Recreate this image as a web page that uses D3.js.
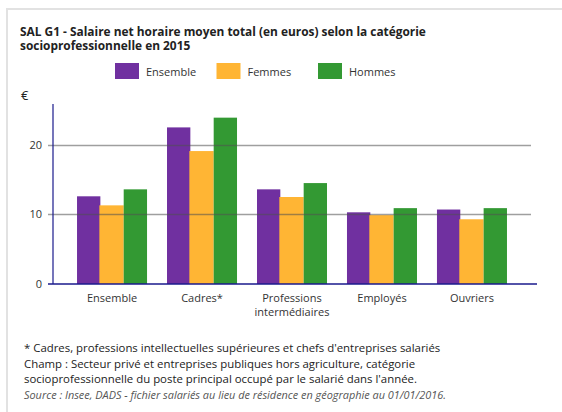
<!DOCTYPE html>
<html>
<head>
<meta charset="utf-8">
<script src="https://cdn.jsdelivr.net/npm/d3@7"></script>
<style>
  body { margin: 0; background: #fff; font-family: "Open Sans", sans-serif; }
  .tick text { font-family: "Open Sans", sans-serif; }
</style>
</head>
<body>
<script>
// Data
const categories = ["Ensemble", "Cadres*", "Professions intermédiaires", "Employés", "Ouvriers"];
const categoryLines = [["Ensemble"], ["Cadres*"], ["Professions", "intermédiaires"], ["Employés"], ["Ouvriers"]];
const seriesNames = ["Ensemble", "Femmes", "Hommes"];
const ensembleValues = [12.6, 22.5, 13.6, 10.3, 10.7];
const femmesValues = [11.3, 19.1, 12.5, 9.9, 9.3];
const hommesValues = [13.6, 23.9, 14.5, 10.9, 10.9];
const yTicks = [0, 10, 20];
const seriesColors = ["#7030a0", "#ffb534", "#339933"];

const titleLines = [
  "SAL G1 - Salaire net horaire moyen total (en euros) selon la catégorie",
  "socioprofessionnelle en 2015"
];
const noteLines = [
  "* Cadres, professions intellectuelles supérieures et chefs d'entreprises salariés",
  "Champ : Secteur privé et entreprises publiques hors agriculture, catégorie",
  "socioprofessionnelle du poste principal occupé par le salarié dans l'année."
];
const sourceLine = "Source : Insee, DADS - fichier salariés au lieu de résidence en géographie au 01/01/2016.";

const W = 562, H = 412;
const left = 53, right = 531, yZero = 284;

const svg = d3.select("body").append("svg")
    .attr("width", W)
    .attr("height", H);

// light frame round the chart
svg.append("path")
    .attr("d", `M7,${H} V9 H${W}`)
    .attr("fill", "none")
    .attr("stroke", "#e2e2e2")
    .attr("stroke-width", 2);

// title
svg.append("text")
    .attr("x", 20).attr("y", 35.5)
    .style("font-size", "11.9px")
    .style("font-weight", "bold")
    .attr("fill", "#222")
    .selectAll("tspan")
    .data(titleLines)
    .enter().append("tspan")
    .attr("x", 20)
    .attr("dy", (d, i) => i ? 14.5 : 0)
    .text(d => d);

// legend
const legend = svg.append("g").attr("transform", "translate(115,63)");
const lg = legend.selectAll("g")
    .data(seriesNames)
    .enter().append("g")
    .attr("transform", (d, i) => `translate(${i * 101.5},0)`);
lg.append("rect")
    .attr("width", 24).attr("height", 16)
    .attr("fill", (d, i) => seriesColors[i]);
lg.append("text")
    .attr("x", 31).attr("y", 12.5)
    .style("font-size", "11px")
    .attr("fill", "#333")
    .text(d => d);

// euro unit
svg.append("text")
    .attr("x", 21).attr("y", 100)
    .style("font-size", "13px")
    .attr("fill", "#222")
    .text("€");

// scales
const x0 = d3.scaleBand()
    .domain(categories)
    .range([left, right])
    .paddingInner(0.222)
    .paddingOuter(0.267);

const x1 = d3.scaleBand()
    .domain(seriesNames)
    .range([0, x0.bandwidth()]);

const y = d3.scaleLinear()
    .domain([0, 10])
    .range([yZero, yZero - 69.6]);

const rows = categories.map((c, i) => ({
  cat: c,
  vals: [ensembleValues[i], femmesValues[i], hommesValues[i]]
}));

// bars
const groups = svg.append("g").selectAll("g")
    .data(rows)
    .enter().append("g")
    .attr("transform", d => `translate(${x0(d.cat)},0)`);

groups.selectAll("rect")
    .data(d => d.vals.map((v, i) => ({ s: seriesNames[i], v: v, i: i })))
    .enter().append("rect")
    .attr("x", d => x1(d.s) - (d.i === 1 ? 1 : 0))
    .attr("width", d => x1.bandwidth() + (d.i === 1 ? 1 : 0))
    .attr("y", d => y(d.v))
    .attr("height", d => yZero - y(d.v))
    .attr("fill", d => seriesColors[d.i]);

// gridlines (and small ticks left of the axis) drawn over bars
svg.append("g").selectAll("line")
    .data(yTicks.filter(t => t > 0))
    .enter().append("line")
    .attr("x1", 48).attr("x2", right)
    .attr("y1", d => Math.round(y(d)) + 0.5)
    .attr("y2", d => Math.round(y(d)) + 0.5)
    .attr("stroke", "rgba(80,80,80,0.55)")
    .attr("stroke-width", 1.5);

// y axis labels
const yAxis = svg.append("g")
    .attr("transform", `translate(${left},0)`)
    .call(d3.axisLeft(y).tickValues(yTicks).tickSize(0).tickPadding(11));
yAxis.select(".domain").remove();
yAxis.selectAll("text")
    .style("font-size", "11px")
    .attr("fill", "#333");

svg.append("line")
    .attr("x1", left).attr("x2", left)
    .attr("y1", 104).attr("y2", yZero)
    .attr("stroke", "#1a1a8c")
    .attr("stroke-width", 1.2);

// x axis baseline
svg.append("line")
    .attr("x1", 48).attr("x2", 537)
    .attr("y1", yZero).attr("y2", yZero)
    .attr("stroke", "#1a1a8c")
    .attr("stroke-width", 1.5);

// x labels
svg.append("g").selectAll("text")
    .data(categories)
    .enter().append("text")
    .attr("x", d => x0(d) + x0.bandwidth() / 2)
    .attr("y", 302)
    .attr("text-anchor", "middle")
    .style("font-size", "11px")
    .attr("fill", "#333")
    .selectAll("tspan")
    .data((d, i) => categoryLines[i].map(l => ({ l: l, x: x0(d) + x0.bandwidth() / 2 })))
    .enter().append("tspan")
    .attr("x", d => d.x)
    .attr("dy", (d, i) => i ? 14 : 0)
    .text(d => d.l);

// notes
svg.append("text")
    .attr("y", 352)
    .style("font-size", "11.4px")
    .attr("fill", "#222")
    .selectAll("tspan")
    .data(noteLines)
    .enter().append("tspan")
    .attr("x", 24)
    .attr("dy", (d, i) => i ? 15.5 : 0)
    .text(d => d);

svg.append("text")
    .attr("x", 24).attr("y", 398.5)
    .style("font-size", "10.9px")
    .style("font-style", "italic")
    .attr("fill", "#555")
    .text(sourceLine);
</script>
</body>
</html>
